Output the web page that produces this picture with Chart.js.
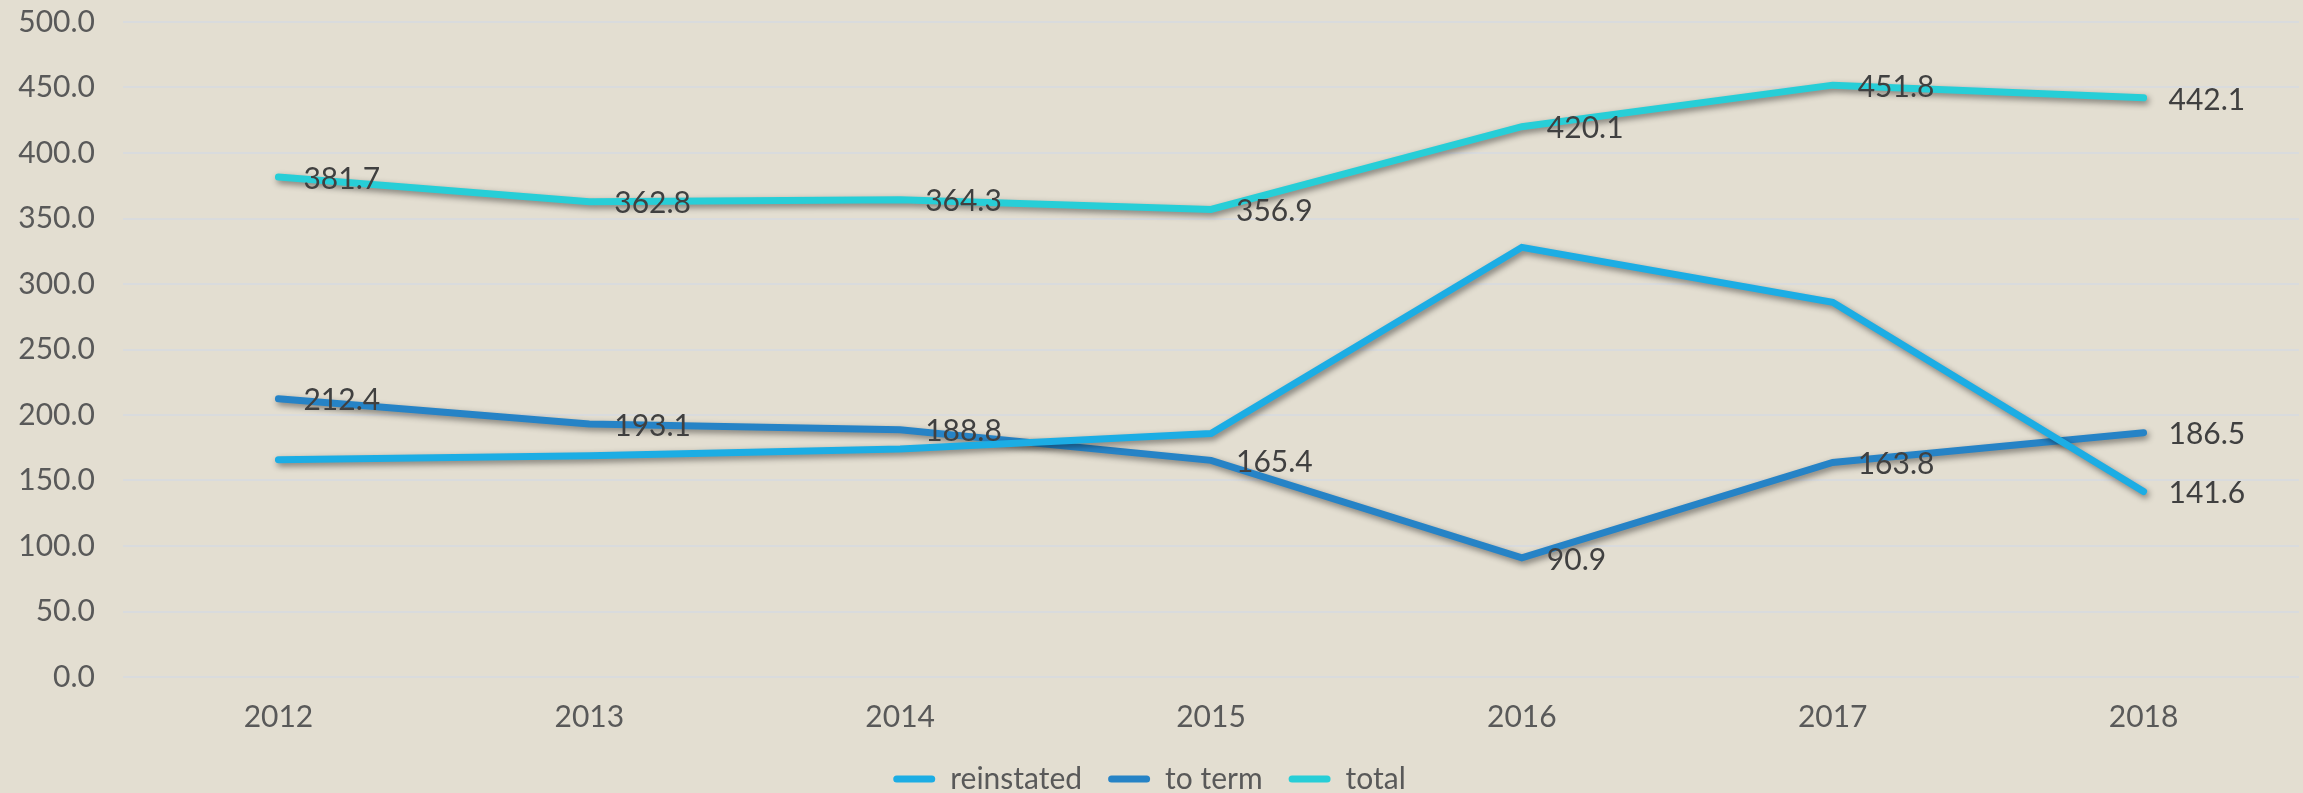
<!DOCTYPE html>
<html>
<head>
<meta charset="utf-8">
<script src="https://cdn.jsdelivr.net/npm/chart.js@4"></script>
<style>
  html, body { margin: 0; padding: 0; background: #E3DED1; }
  #wrap { width: 2303px; height: 793px; }
</style>
</head>
<body>
<div id="wrap"><canvas id="lineChart"></canvas></div>
<script>
const years = ['2012', '2013', '2014', '2015', '2016', '2017', '2018'];
const reinstated = [165.8, 168.9, 174.0, 185.8, 328.0, 286.0, 141.6];
const toTerm = [212.4, 193.1, 188.8, 165.4, 90.9, 163.8, 186.5];
const total = [381.7, 362.8, 364.3, 356.9, 420.1, 451.8, 442.1];
// which points get a value label (reinstated only shows the last one)
const reinstatedLabels = [false, false, false, false, false, false, true];
const allLabels = [true, true, true, true, true, true, true];

const FONT = 'Lato';

// soft drop shadow under each line
const lineShadow = {
    id: 'lineShadow',
    beforeDatasetDraw(chart) {
        const c = chart.ctx;
        c.save();
        c.shadowColor = 'rgba(0,0,0,0.45)';
        c.shadowBlur = 6;
        c.shadowOffsetX = 2;
        c.shadowOffsetY = 3;
    },
    afterDatasetDraw(chart) {
        chart.ctx.restore();
    }
};

// value labels to the right of each point
const valueLabels = {
    id: 'valueLabels',
    afterDatasetsDraw(chart) {
        const c = chart.ctx;
        c.save();
        c.font = '30px ' + FONT;
        c.fillStyle = '#404040';
        c.textAlign = 'left';
        c.textBaseline = 'middle';
        chart.data.datasets.forEach((ds, i) => {
            const meta = chart.getDatasetMeta(i);
            meta.data.forEach((pt, j) => {
                if (!ds.showLabel[j]) return;
                c.fillText(ds.data[j].toFixed(1), pt.x + 25, pt.y + 2);
            });
        });
        c.restore();
    }
};

const ctx = document.getElementById('lineChart').getContext('2d');

new Chart(ctx, {
    type: 'line',
    data: {
        labels: years,
        datasets: [
            {
                label: 'reinstated',
                data: reinstated,
                showLabel: reinstatedLabels,
                borderColor: '#1CADE4',
                backgroundColor: '#1CADE4',
            },
            {
                label: 'to term',
                data: toTerm,
                showLabel: allLabels,
                borderColor: '#2683C6',
                backgroundColor: '#2683C6',
            },
            {
                label: 'total',
                data: total,
                showLabel: allLabels,
                borderColor: '#27CED7',
                backgroundColor: '#27CED7',
            },
        ],
    },
    options: {
        responsive: true,
        maintainAspectRatio: false,
        animation: false,
        elements: {
            line: {
                borderWidth: 7,
                borderCapStyle: 'round',
                borderJoinStyle: 'miter',
                tension: 0,
            },
            point: { radius: 0, hoverRadius: 0 },
        },
        layout: {
            padding: { top: 22, right: 4, left: 0, bottom: -11 },
        },
        plugins: {
            tooltip: { enabled: false },
            legend: {
                position: 'bottom',
                labels: {
                    font: { family: FONT, size: 30 },
                    color: '#595959',
                    boxWidth: 42,
                    boxHeight: 7,
                    useBorderRadius: true,
                    borderRadius: 3.5,
                    padding: 26,
                    generateLabels(chart) {
                        const items = Chart.defaults.plugins.legend.labels.generateLabels(chart);
                        items.forEach((it) => { it.lineWidth = 0; });
                        return items;
                    },
                },
            },
        },
        scales: {
            x: {
                offset: true,
                afterFit(scale) { scale.height -= 19; },
                grid: { display: false, drawTicks: false },
                border: { display: false },
                ticks: {
                    font: { family: FONT, size: 30 },
                    color: '#595959',
                    padding: 22,
                },
            },
            y: {
                min: 0,
                max: 500,
                afterFit(scale) {
                    scale.width = 123;
                    scale.paddingTop = 0;
                    scale.paddingBottom = 0;
                },
                grid: { color: '#D9DBDD', lineWidth: 2, drawTicks: false },
                border: { display: false },
                ticks: {
                    stepSize: 50,
                    font: { family: FONT, size: 30 },
                    color: '#595959',
                    padding: 28,
                    callback: (v) => v.toFixed(1),
                },
            },
        },
    },
    plugins: [lineShadow, valueLabels],
});
</script>
</body>
</html>
